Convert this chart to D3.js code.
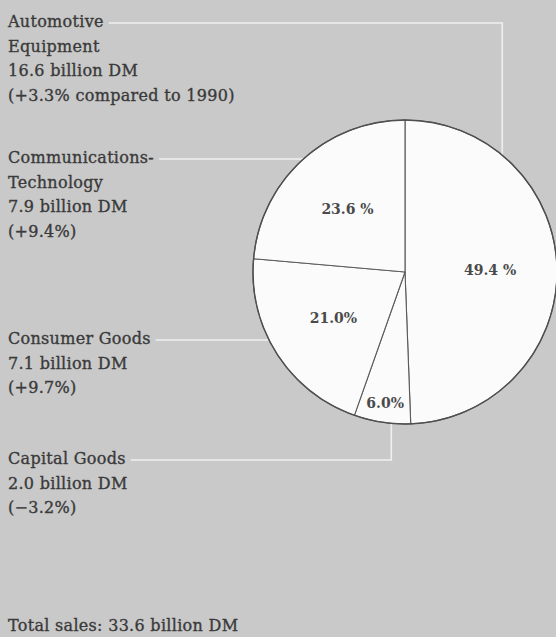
<!DOCTYPE html>
<html>
<head>
<meta charset="utf-8">
<script src="https://cdn.jsdelivr.net/npm/d3@7"></script>
<style>
  html, body { margin: 0; padding: 0; background: #c8c8c8; }
  svg { display: block; }
</style>
</head>
<body>
<svg id="chart" width="556" height="637"></svg>
<script>
// Sales by division, share of total (percent), in pie order (clockwise from 12 o'clock)
const divisions = ["Automotive Equipment", "Capital Goods", "Consumer Goods", "Communications-Technology"];
const shares = [49.4, 6.0, 21.0, 23.6];
const shareLabels = ["49.4 %", "6.0%", "21.0%", "23.6 %"];

// Side captions for each division
const captionLines = [
  ["Automotive", "Equipment", "16.6 billion DM", "(+3.3% compared to 1990)"],
  ["Capital Goods", "2.0 billion DM", "(\u22123.2%)"],
  ["Consumer Goods", "7.1 billion DM", "(+9.7%)"],
  ["Communications-", "Technology", "7.9 billion DM", "(+9.4%)"]
];
const totalLabel = "Total sales: 33.6 billion DM";

const svg = d3.select("#chart");
const W = 556, H = 637;
const cx = 405, cy = 272, R = 152;
const ink = "#3a3a3a";
const font = "'DejaVu Serif', 'Liberation Serif', serif";

svg.append("rect").attr("width", W).attr("height", H).attr("fill", "#c9c9c9");

const pie = d3.pie().sort(null).value(d => d)(shares);
const arc = d3.arc().innerRadius(0).outerRadius(R);

// caption block placement (top baseline of each block), line height
const blockTop = [27, 464, 344, 163];
const lineH = 24.5;
const textX = 8;

const captions = svg.append("g")
  .attr("font-family", font)
  .attr("font-size", 16)
  .attr("letter-spacing", 0.3)
  .attr("fill", ink)
  .attr("stroke", ink)
  .attr("stroke-width", 0.35);

const blocks = captionLines.map((lines, i) => {
  const g = captions.append("g");
  lines.forEach((t, j) => {
    g.append("text")
      .attr("x", textX)
      .attr("y", blockTop[i] + j * lineH)
      .text(t);
  });
  return g;
});

// point on the circle edge at a given x (upper or lower half)
const edgeY = (x, lower) => {
  const dx = x - cx;
  const h = Math.sqrt(Math.max(R * R - dx * dx, 0));
  return lower ? cy + h : cy - h;
};
const edgeX = (y) => cx - Math.sqrt(Math.max(R * R - (y - cy) * (y - cy), 0));

// leader lines from the first caption line to the matching slice
const leaders = svg.append("g")
  .attr("fill", "none")
  .attr("stroke", "#efefef")
  .attr("stroke-width", 1.6);

blocks.forEach((g, i) => {
  const first = g.select("text").node();
  const x0 = textX + first.getComputedTextLength() + 5;
  const y0 = blockTop[i] - 4;
  let pts;
  if (i === 0) {
    const xe = cx + R * 0.64;
    pts = [[x0, y0], [xe, y0], [xe, edgeY(xe, false)]];
  } else if (i === 1) {
    const mid = (pie[1].startAngle + pie[1].endAngle) / 2;
    const xe = cx + R * Math.sin(mid) * 0.6;
    pts = [[x0, y0], [xe, y0], [xe, edgeY(xe, true)]];
  } else {
    pts = [[x0, y0], [edgeX(y0), y0]];
  }
  leaders.append("path").attr("d", d3.line()(pts));
});

// pie slices
const pieG = svg.append("g").attr("transform", `translate(${cx},${cy})`);
pieG.selectAll("path.slice")
  .data(pie)
  .join("path")
  .attr("class", "slice")
  .attr("d", arc)
  .attr("fill", "#fbfbfb")
  .attr("stroke", "#5a5a5a")
  .attr("stroke-width", 1.1);

pieG.append("circle")
  .attr("r", R)
  .attr("fill", "none")
  .attr("stroke", "#4f4f4f")
  .attr("stroke-width", 1.4);

// percentage labels: small slices sit near the rim
pieG.selectAll("text.pct")
  .data(pie)
  .join("text")
  .attr("class", "pct")
  .attr("font-family", font)
  .attr("font-size", 14)
  .attr("font-weight", "bold")
  .attr("fill", "#4a4a4a")
  .attr("text-anchor", "middle")
  .attr("dominant-baseline", "central")
  .attr("transform", d => {
    const span = d.endAngle - d.startAngle;
    const r = span < 0.5 ? R * 0.87 : R * 0.56;
    const a = (d.startAngle + d.endAngle) / 2;
    return `translate(${r * Math.sin(a)},${-r * Math.cos(a)})`;
  })
  .text((d, i) => shareLabels[i]);

// total
svg.append("text")
  .attr("x", textX)
  .attr("y", 631)
  .attr("font-family", font)
  .attr("font-size", 16)
  .attr("letter-spacing", 0.3)
  .attr("fill", ink)
  .attr("stroke", ink)
  .attr("stroke-width", 0.35)
  .text(totalLabel);
</script>
</body>
</html>
